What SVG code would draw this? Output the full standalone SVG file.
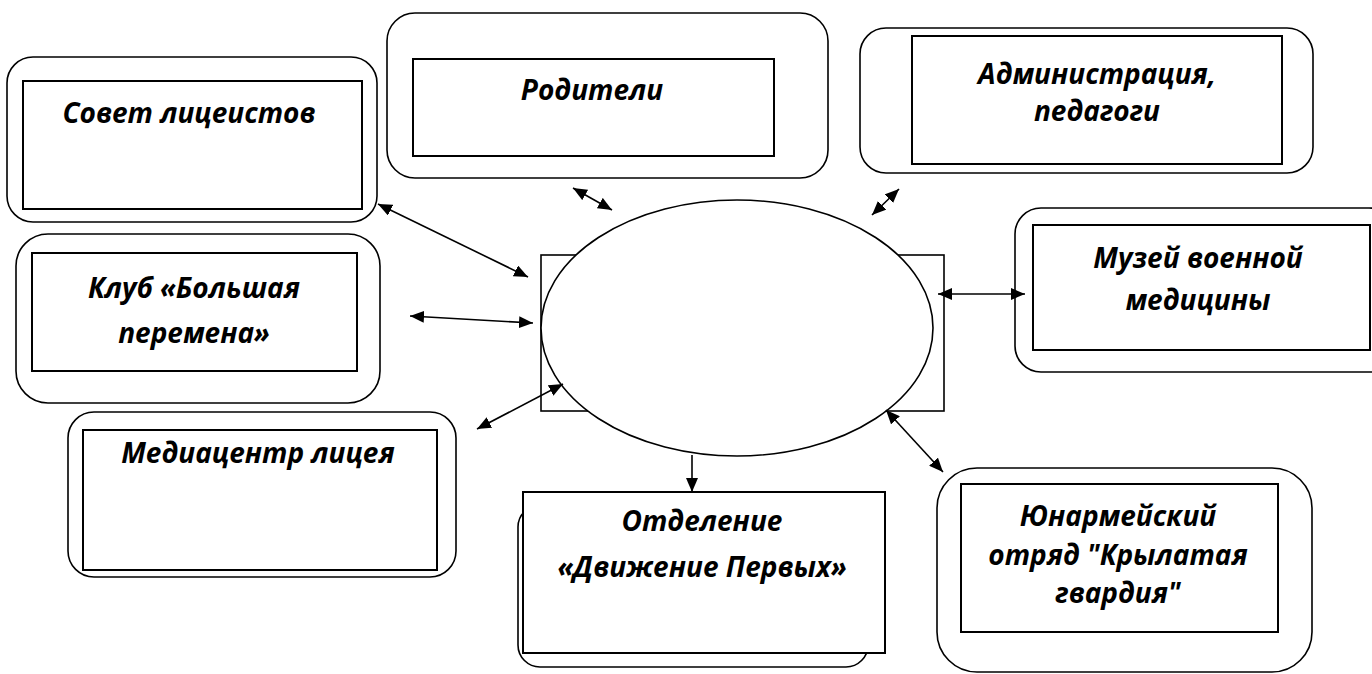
<svg xmlns="http://www.w3.org/2000/svg" width="1372" height="674" viewBox="0 0 1372 674">
<style>
.outer{fill:#fff;stroke:#000;stroke-width:1.6}
.inner{fill:#fff;stroke:#000;stroke-width:2}
.t{font-family:"Open Sans","Liberation Sans",sans-serif;font-weight:bold;font-style:italic;font-size:28px;fill:#000;text-anchor:middle}
.c{stroke:#000;stroke-width:1.6;fill:none}
</style>
<defs>
<marker id="ahb" viewBox="0 0 14 12" refX="14" refY="6" markerWidth="14" markerHeight="12" markerUnits="userSpaceOnUse" orient="auto-start-reverse">
<path d="M0,0 L14,6 L0,12 z" fill="#000"/>
</marker>
</defs>
<g id="center">
<rect x="541" y="255" width="403" height="156" fill="#fff" stroke="#000" stroke-width="1.6"/>
<ellipse cx="737" cy="328" rx="196" ry="128" fill="#fff" stroke="#000" stroke-width="1.6"/>
</g>
<g id="sovet">
<rect class="outer" x="7" y="57" width="370" height="165" rx="26"/>
<rect class="inner" x="23" y="81" width="339" height="128"/>
<text class="t" x="189" y="123">Совет лицеистов</text>
</g>
<g id="roditeli">
<rect class="outer" x="387" y="13" width="441" height="165" rx="28"/>
<rect class="inner" x="413" y="59" width="361" height="97"/>
<text class="t" x="592" y="100">Родители</text>
</g>
<g id="administratsiya">
<rect class="outer" x="860" y="28" width="453" height="145" rx="26"/>
<rect class="inner" x="912" y="36" width="370" height="128"/>
<text class="t" x="1097" y="84">Администрация,</text>
<text class="t" x="1097" y="121">педагоги</text>
</g>
<g id="klub">
<rect class="outer" x="16" y="234" width="364" height="169" rx="32"/>
<rect class="inner" x="32" y="253" width="325" height="118"/>
<text class="t" x="194" y="298">Клуб «Большая</text>
<text class="t" x="194" y="343">перемена»</text>
</g>
<g id="mediatsentr">
<rect class="outer" x="68" y="412" width="388" height="165" rx="26"/>
<rect class="inner" x="83" y="430" width="354" height="140"/>
<text class="t" x="258" y="463">Медиацентр лицея</text>
</g>
<g id="muzey">
<rect class="outer" x="1015" y="208" width="380" height="164" rx="26"/>
<rect class="inner" x="1033" y="225" width="337" height="125"/>
<text class="t" x="1198" y="268">Музей военной</text>
<text class="t" x="1198" y="310">медицины</text>
</g>
<g id="otdelenie">
<rect class="outer" x="518" y="505" width="350" height="162" rx="22"/>
<rect class="inner" x="523" y="492" width="362" height="161"/>
<text class="t" x="702" y="531">Отделение</text>
<text class="t" x="702" y="577">«Движение Первых»</text>
</g>
<g id="yunarmeyskiy">
<rect class="outer" x="937" y="468" width="375" height="204" rx="40"/>
<rect class="inner" x="961" y="484" width="317" height="148"/>
<text class="t" x="1118" y="526">Юнармейский</text>
<text class="t" x="1118" y="565">отряд "Крылатая</text>
<text class="t" x="1118" y="603">гвардия"</text>
</g>
<g id="connectors">
<line class="c" x1="378" y1="204" x2="528" y2="277" marker-start="url(#ahb)" marker-end="url(#ahb)"/>
<line class="c" x1="410" y1="316" x2="533" y2="323" marker-start="url(#ahb)" marker-end="url(#ahb)"/>
<line class="c" x1="477" y1="429" x2="563" y2="384" marker-start="url(#ahb)" marker-end="url(#ahb)"/>
<line class="c" x1="573" y1="188" x2="612" y2="210" marker-start="url(#ahb)" marker-end="url(#ahb)"/>
<line class="c" x1="899" y1="189" x2="872" y2="215" marker-start="url(#ahb)" marker-end="url(#ahb)"/>
<line class="c" x1="938" y1="294" x2="1025" y2="294" marker-start="url(#ahb)" marker-end="url(#ahb)"/>
<line class="c" x1="886" y1="410" x2="943" y2="472" marker-start="url(#ahb)" marker-end="url(#ahb)"/>
<line class="c" x1="692" y1="455" x2="692" y2="492" marker-end="url(#ahb)"/>
</g>
</svg>
